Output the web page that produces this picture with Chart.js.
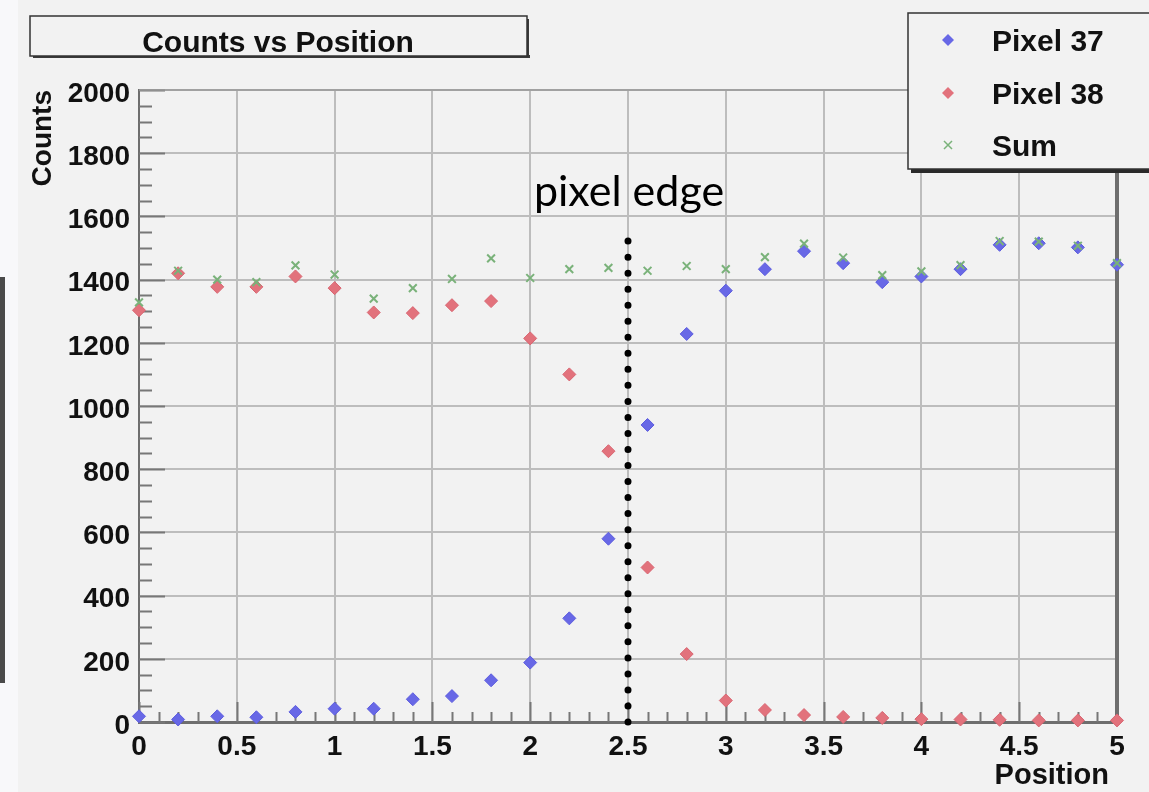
<!DOCTYPE html>
<html>
<head>
<meta charset="utf-8">
<title>Counts vs Position</title>
<script src="https://cdn.jsdelivr.net/npm/chart.js@4.4.1/dist/chart.umd.min.js"></script>
<style>
    html, body { margin: 0; padding: 0; background: #f2f2f2; }
    #wrap { position: relative; width: 1149px; height: 792px; overflow: hidden; }
    .side { position: absolute; left: 0; top: 0; width: 18px; height: 792px; background: #f8f8fa; }
    .side-bar { position: absolute; left: 0; top: 277px; width: 5px; height: 406px; background: #4a4a4a; }
    canvas { position: absolute; left: 0; top: 0; }
</style>
</head>
<body>
<div id="wrap">
    <div class="side"></div>
    <div class="side-bar"></div>
    <canvas id="countsChart" width="1149" height="792"></canvas>
</div>
<script>
// Scan positions and counts per pixel
const positions = [0, 0.2, 0.4, 0.6, 0.8, 1.0, 1.2, 1.4, 1.6, 1.8, 2.0, 2.2, 2.4,
    2.6, 2.8, 3.0, 3.2, 3.4, 3.6, 3.8, 4.0, 4.2, 4.4, 4.6, 4.8, 5.0];
const pixel37 = [18, 8, 18, 15, 32, 42, 42, 72, 82, 132, 188, 328, 580,
    940, 1228, 1365, 1433, 1490, 1452, 1392, 1410, 1433, 1510, 1515, 1502, 1447];
const pixel38 = [1303, 1420, 1377, 1377, 1410, 1373, 1296, 1294, 1319, 1332, 1214, 1100, 857,
    489, 215, 68, 38, 22, 16, 13, 9, 8, 7, 5, 5, 5];
const sumCounts = [1328, 1428, 1400, 1392, 1445, 1416, 1340, 1373, 1402, 1467, 1405, 1433, 1437,
    1428, 1443, 1433, 1471, 1514, 1470, 1414, 1426, 1446, 1522, 1520, 1507, 1452];

// Pixel boundary marker
const edgePosition = 2.5;
const edgeRange = [0, 1525];

// Axis ticks
const xTickValues = [0, 0.5, 1, 1.5, 2, 2.5, 3, 3.5, 4, 4.5, 5];
const yTickValues = [0, 200, 400, 600, 800, 1000, 1200, 1400, 1600, 1800, 2000];

const SANS = '"Liberation Sans", Arial, sans-serif';
const toPoints = (ys) => positions.map((x, i) => ({ x: x, y: ys[i] }));

// Frame, inner tick marks, title box, legend and labels
const framePlugin = {
    id: 'frame',
    beforeDatasetsDraw(chart) {
        const { ctx, chartArea: a, scales } = chart;
        const xs = scales.x, ys = scales.y;
        ctx.save();
        ctx.strokeStyle = '#777';
        ctx.lineWidth = 2;
        ctx.beginPath();
        // x ticks: minor every 0.1, major every 0.5
        for (let i = 0; i <= 50; i++) {
            const px = Math.round(xs.getPixelForValue(i / 10)) + 0.5;
            const len = i % 5 === 0 ? 20 : 10;
            ctx.moveTo(px, a.bottom);
            ctx.lineTo(px, a.bottom - len);
        }
        // y ticks: minor every 50, major every 200
        for (let i = 0; i <= 40; i++) {
            const py = Math.round(ys.getPixelForValue(i * 50)) + 0.5;
            const len = i % 4 === 0 ? 26 : 13;
            ctx.moveTo(a.left, py);
            ctx.lineTo(a.left + len, py);
        }
        ctx.stroke();

        // top and right frame lines
        ctx.strokeStyle = '#999';
        ctx.lineWidth = 1.5;
        ctx.beginPath();
        ctx.moveTo(a.left, a.top);
        ctx.lineTo(a.right, a.top);
        ctx.stroke();
        ctx.strokeStyle = '#6e6e6e';
        ctx.lineWidth = 4;
        ctx.beginPath();
        ctx.moveTo(a.right, a.top);
        ctx.lineTo(a.right, a.bottom);
        ctx.stroke();
        ctx.restore();
    },
    afterDraw(chart) {
        const { ctx } = chart;
        ctx.save();

        // title box with shadow
        ctx.fillStyle = '#3a3a3a';
        ctx.fillRect(33, 55, 497, 3);
        ctx.fillRect(526, 19, 3, 39);
        ctx.fillStyle = '#f2f2f2';
        ctx.fillRect(30, 16, 497, 40);
        ctx.strokeStyle = '#333';
        ctx.lineWidth = 1.5;
        ctx.strokeRect(30, 16, 497, 40);
        ctx.fillStyle = '#111';
        ctx.font = 'bold 30px ' + SANS;
        ctx.textAlign = 'center';
        ctx.textBaseline = 'alphabetic';
        ctx.fillText('Counts vs Position', 278, 52);

        // legend box with shadow
        ctx.fillStyle = '#2a2a2a';
        ctx.fillRect(911, 168, 250, 5);
        ctx.fillStyle = '#f2f2f2';
        ctx.fillRect(908, 13, 250, 156);
        ctx.strokeStyle = '#333';
        ctx.lineWidth = 1.5;
        ctx.strokeRect(908, 13, 250, 156);

        const rows = [40, 93, 145];
        const sets = chart.data.datasets.filter(d => d.inLegend);
        sets.forEach((ds, i) => {
            const y = rows[i];
            const x = 948;
            ctx.save();
            if (ds.pointStyle === 'crossRot') {
                ctx.strokeStyle = ds.borderColor;
                ctx.lineWidth = 1.5;
                ctx.beginPath();
                ctx.moveTo(x - 4, y - 4); ctx.lineTo(x + 4, y + 4);
                ctx.moveTo(x + 4, y - 4); ctx.lineTo(x - 4, y + 4);
                ctx.stroke();
            } else {
                ctx.fillStyle = ds.backgroundColor;
                ctx.beginPath();
                ctx.moveTo(x, y - 6); ctx.lineTo(x + 6, y);
                ctx.lineTo(x, y + 6); ctx.lineTo(x - 6, y);
                ctx.closePath();
                ctx.fill();
            }
            ctx.restore();
            ctx.fillStyle = '#111';
            ctx.font = 'bold 30px ' + SANS;
            ctx.textAlign = 'left';
            ctx.textBaseline = 'middle';
            ctx.fillText(ds.label, 992, y + 3);
        });

        // axis titles
        ctx.fillStyle = '#111';
        ctx.font = 'bold 29px ' + SANS;
        ctx.textAlign = 'right';
        ctx.textBaseline = 'alphabetic';
        ctx.fillText('Position', 1109, 784);
        ctx.save();
        ctx.translate(51, 90);
        ctx.rotate(-Math.PI / 2);
        ctx.textAlign = 'right';
        ctx.font = 'bold 28px ' + SANS;
        ctx.fillText('Counts', 0, 0);
        ctx.restore();

        // boundary label
        const ex = chart.scales.x.getPixelForValue(edgePosition);
        ctx.fillStyle = '#000';
        ctx.font = '43px Lato, "Open Sans", sans-serif';
        ctx.textAlign = 'center';
        ctx.fillText('pixel edge', ex + 1, 206);
        ctx.restore();
    }
};

const ctx = document.getElementById('countsChart').getContext('2d');
new Chart(ctx, {
    type: 'scatter',
    data: {
        datasets: [
            {
                label: 'Pixel 37',
                data: toPoints(pixel37),
                inLegend: true,
                pointStyle: 'rectRot',
                pointRadius: 6.5,
                borderColor: 'rgb(92, 92, 222)',
                backgroundColor: 'rgb(104, 104, 230)',
                pointBorderWidth: 1,
                order: 2,
                clip: false
            },
            {
                label: 'Pixel 38',
                data: toPoints(pixel38),
                inLegend: true,
                pointStyle: 'rectRot',
                pointRadius: 6.5,
                borderColor: 'rgb(216, 100, 112)',
                backgroundColor: 'rgb(226, 114, 124)',
                pointBorderWidth: 1,
                order: 1,
                clip: false
            },
            {
                label: 'Sum',
                data: toPoints(sumCounts),
                inLegend: true,
                pointStyle: 'crossRot',
                pointRadius: 5.5,
                borderColor: 'rgb(122, 178, 122)',
                backgroundColor: 'rgb(122, 178, 122)',
                pointBorderWidth: 2,
                order: 0,
                clip: false
            },
            {
                label: 'edge',
                type: 'line',
                data: edgeRange.map(v => ({ x: edgePosition, y: v })),
                borderColor: '#000',
                borderWidth: 7,
                borderDash: [0, 16.03],
                borderCapStyle: 'round',
                pointRadius: 0,
                fill: false,
                order: 3,
                clip: false
            }
        ]
    },
    options: {
        responsive: false,
        devicePixelRatio: 1,
        animation: false,
        layout: { padding: { top: 90, right: 32, left: 0, bottom: 0 } },
        plugins: {
            legend: { display: false },
            tooltip: { enabled: false }
        },
        scales: {
            x: {
                type: 'linear',
                min: 0,
                max: 5,
                afterFit: (scale) => { scale.height = 70; },
                afterBuildTicks: (scale) => { scale.ticks = xTickValues.map(v => ({ value: v })); },
                grid: { color: '#bdbdbd', lineWidth: 2, drawTicks: false },
                border: { color: '#6e6e6e', width: 3 },
                ticks: {
                    padding: 8,
                    color: '#111',
                    font: { family: SANS, weight: 'bold', size: 28 },
                    maxRotation: 0,
                    autoSkip: false,
                    callback: (v) => String(v)
                }
            },
            y: {
                type: 'linear',
                min: 0,
                max: 2000,
                afterFit: (scale) => { scale.width = 139; },
                afterBuildTicks: (scale) => { scale.ticks = yTickValues.map(v => ({ value: v })); },
                grid: { color: '#bdbdbd', lineWidth: 2, drawTicks: false },
                border: { color: '#6e6e6e', width: 2 },
                ticks: {
                    padding: 9,
                    labelOffset: 4,
                    color: '#111',
                    font: { family: SANS, weight: 'bold', size: 28 },
                    autoSkip: false,
                    callback: (v) => String(v)
                }
            }
        }
    },
    plugins: [framePlugin]
});
</script>
</body>
</html>
